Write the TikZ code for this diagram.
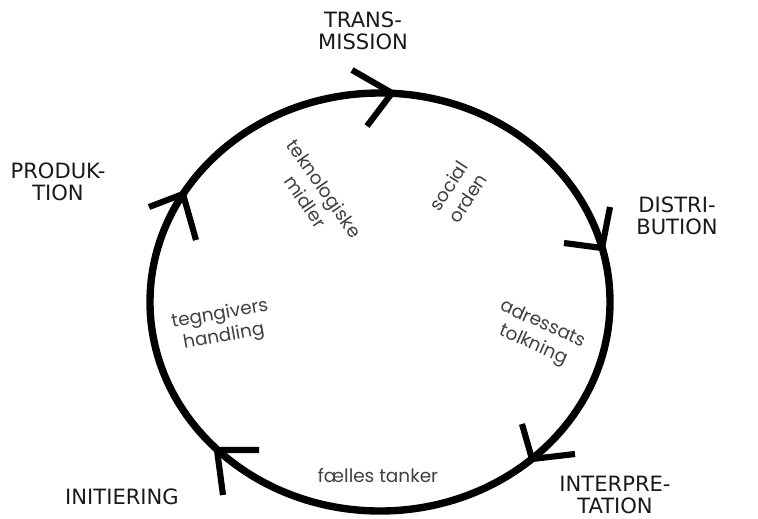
\documentclass[tikz,border=0pt]{standalone}
\usepackage{fontspec}
\setmainfont{DejaVu Sans}
\newfontfamily\innerfont{Poppins}
\usetikzlibrary{calc}

\begin{document}
\begin{tikzpicture}[
    x=0.02cm, y=-0.02cm,
    cycleline/.style={line width=4.2pt},
    chevron/.style={line width=3.5pt},
    stage/.style={align=center, font=\fontsize{12}{12.5}\selectfont, text=black!90},
    inner/.style={align=center, font=\innerfont\fontsize{10.5}{13}\selectfont, text=black!75}
]
    \useasboundingbox (0,0) rectangle (758,518);

    % Cycle
    \coordinate (mid) at (380,302);
    \draw[cycleline] (mid) ellipse [x radius=230, y radius=209];

    % Arrow marks on the cycle (clockwise)
    \coordinate (tr) at (392,93);
    \coordinate (di) at (602,248);
    \coordinate (in) at (532,459);
    \coordinate (ini) at (217,450);
    \coordinate (pr) at (183,194);
    \draw[chevron] ($(tr)+(-40,-23)$) -- (tr) -- ++(-25,33);
    \draw[chevron] ($(di)+(8,-41)$) -- (di) -- ++(-38,-5);
    \draw[chevron] ($(in)+(-10,-35)$) -- (in) -- ++(43,-5);
    \draw[chevron] ($(ini)+(42,0)$) -- (ini) -- ++(6,45);
    \draw[chevron] ($(pr)+(-34,13)$) -- (pr) -- ++(13,46);

    % Stages
    \node[stage] (transmission) at (363,31) {TRANS-\\MISSION};
    \node[stage] (distribution) at (677,216) {DISTRI-\\BUTION};
    \node[stage] (interpretation) at (615,495) {INTERPRE-\\TATION};
    \node[stage] (initiering) at (122,497) {INITIERING};
    \node[stage] (produktion) at (58,182) {PRODUK-\\TION};

    % Inside the cycle
    \node[inner, rotate=-55] (midler) at (315,195) {teknologiske\\midler};
    \node[inner, rotate=57] (orden) at (458,192) {social\\orden};
    \node[inner, rotate=-24] (tolkning) at (538,335) {adressats\\tolkning};
    \node[inner] (tanker) at (378,476) {fælles tanker};
    \node[inner, rotate=10] (handling) at (222,326) {tegngivers\\handling};
\end{tikzpicture}
\end{document}
